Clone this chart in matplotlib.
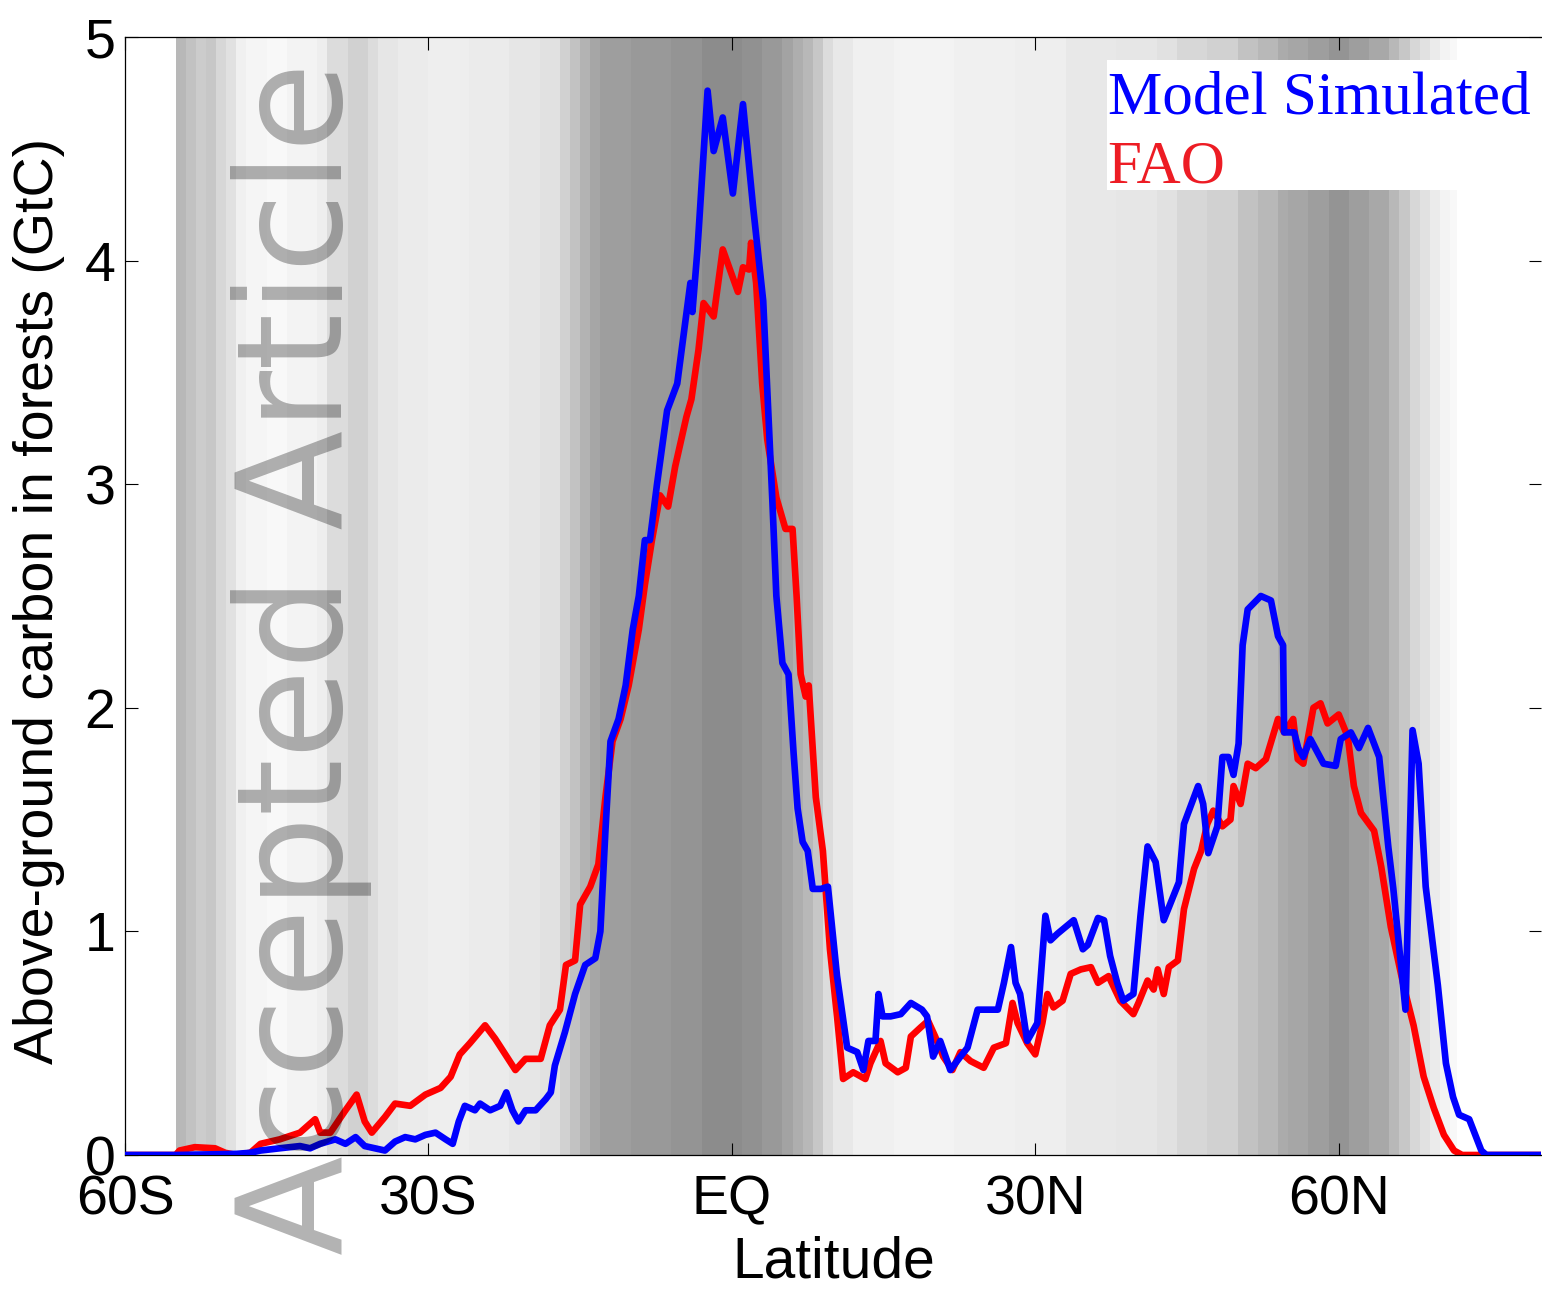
import matplotlib
matplotlib.use("Agg")
import matplotlib.pyplot as plt
from matplotlib.patches import Rectangle

# latitude (deg, negative = south) and above-ground carbon (GtC)
fao_lat = [-60.0, -55.0, -54.6, -53.1, -51.1, -50.1, -49.0, -47.6, -46.6, -44.7, -42.7, -41.2, -40.7,
           -39.7, -38.2, -37.1, -36.3, -35.6, -34.3, -33.3, -31.8, -30.3, -28.8, -27.8, -26.9, -25.9,
           -24.4, -23.4, -22.4, -21.4, -20.4, -18.9, -18.0, -17.0, -16.4, -15.5, -15.0, -14.0, -13.2,
           -12.5, -11.8, -11.0, -10.2, -9.2, -8.6, -7.9, -7.1, -6.3, -5.6, -4.5, -4.0, -3.3, -2.8,
           -1.8, -0.9, 0.6, 1.1, 1.7, 1.9, 2.4, 3.0, 3.5, 4.4, 5.3, 6.0, 6.4, 6.8, 7.3, 7.6, 8.3,
           9.0, 9.7, 10.4, 11.0, 12.0, 13.2, 13.7, 14.7, 15.2, 16.4, 17.2, 17.7, 18.65, 19.4, 20.1,
           20.9, 21.8, 22.6, 23.6, 24.9, 25.9, 27.1, 27.75, 28.25, 29.2, 30.0, 30.7, 31.2, 31.8, 32.7,
           33.5, 34.5, 35.5, 36.2, 37.25, 38.4, 39.7, 40.2, 41.1, 41.7, 42.1, 42.7, 43.2, 44.1, 44.7,
           45.7, 46.4, 47.0, 47.6, 48.5, 49.3, 49.6, 50.3, 51.0, 51.8, 52.8, 54.0, 54.6, 55.5, 55.95,
           56.5, 57.5, 58.2, 58.9, 60.0, 60.9, 61.5, 62.2, 63.5, 64.2, 65.15, 66.4, 67.4, 68.4, 69.4,
           70.4, 71.4, 72.2, 80.0]
fao = [0, 0, 0.02, 0.035, 0.03, 0.01, 0.0, 0.01, 0.05, 0.07, 0.10, 0.16, 0.10,
       0.10, 0.20, 0.27, 0.15, 0.10, 0.17, 0.23, 0.22, 0.27, 0.30, 0.35, 0.45, 0.50,
       0.58, 0.52, 0.45, 0.38, 0.43, 0.43, 0.58, 0.65, 0.85, 0.87, 1.12, 1.20, 1.30,
       1.60, 1.85, 1.95, 2.10, 2.35, 2.55, 2.75, 2.95, 2.90, 3.08, 3.30, 3.38, 3.60, 3.81,
       3.75, 4.05, 3.86, 3.97, 3.96, 4.08, 3.90, 3.45, 3.20, 2.94, 2.80, 2.80, 2.50, 2.15, 2.05, 2.10, 1.60,
       1.36, 0.92, 0.62, 0.34, 0.37, 0.34, 0.41, 0.51, 0.41, 0.37, 0.39, 0.53, 0.57, 0.60, 0.53,
       0.44, 0.38, 0.46, 0.42, 0.39, 0.48, 0.50, 0.68, 0.59, 0.50, 0.45, 0.59, 0.72, 0.66, 0.69,
       0.81, 0.83, 0.84, 0.77, 0.80, 0.69, 0.63, 0.68, 0.78, 0.74, 0.83, 0.72, 0.84, 0.87, 1.10,
       1.28, 1.36, 1.48, 1.54, 1.47, 1.50, 1.65, 1.57, 1.75, 1.73, 1.77, 1.95, 1.89, 1.95, 1.77,
       1.75, 2.00, 2.02, 1.93, 1.97, 1.87, 1.65, 1.53, 1.45, 1.29, 1.02, 0.76, 0.58, 0.35, 0.21,
       0.09, 0.02, 0.0, 0.0]

model_lat = [-60.0, -55.0, -49.0, -47.6, -46.6, -44.7, -42.7, -41.7, -40.7, -39.2, -38.2, -37.2, -36.3,
             -35.3, -34.3, -33.3, -32.3, -31.3, -30.3, -29.3, -28.3, -27.6, -27.0, -26.4, -25.4, -24.9,
             -23.9, -22.9, -22.3, -21.7, -21.1, -20.4, -19.4, -18.4, -17.9, -17.5, -16.5, -15.5, -14.5,
             -13.5, -13.0, -12.5, -12.0, -11.2, -10.5, -9.8, -9.2, -8.6, -8.1, -7.4, -6.4, -5.4, -4.1,
             -3.9, -3.4, -2.4, -1.8, -0.9, 0.1, 1.1, 2.1, 3.1, 4.0, 4.4, 5.0, 5.6, 6.1, 6.5, 7.0,
             7.5, 8.0, 8.8, 9.5, 10.4, 11.4, 12.4, 13.0, 13.5, 14.2, 14.5, 14.9, 15.7, 16.7, 17.7,
             18.8, 19.3, 19.9, 20.6, 21.6, 22.6, 23.3, 24.3, 26.3, 26.9, 27.6, 28.05, 28.5, 29.2,
             30.2, 31.0, 31.5, 32.2, 33.8, 34.7, 35.2, 36.2, 36.8, 37.4, 38.1, 38.7, 39.7, 40.4, 41.1,
             41.9, 42.7, 44.2, 44.7, 46.1, 46.6, 47.1, 48.0, 48.5, 49.1, 49.6, 50.1, 50.5, 51.0, 52.3,
             53.3, 54.0, 54.5, 54.6, 55.6, 56.0, 56.5, 57.2, 58.5, 59.7, 60.2, 61.2, 62.0, 62.9, 64.0,
             64.9, 65.4, 66.6, 67.3, 67.9, 68.6, 69.8, 70.6, 71.3, 71.9, 72.9, 74.1, 74.6, 80.0]
model = [0, 0, 0.005, 0.01, 0.02, 0.03, 0.04, 0.03, 0.05, 0.07, 0.05, 0.08, 0.04,
         0.03, 0.02, 0.06, 0.08, 0.07, 0.09, 0.10, 0.07, 0.05, 0.15, 0.22, 0.20, 0.23,
         0.20, 0.22, 0.28, 0.20, 0.15, 0.20, 0.20, 0.25, 0.28, 0.40, 0.55, 0.72, 0.85,
         0.88, 1.00, 1.45, 1.85, 1.95, 2.10, 2.35, 2.50, 2.75, 2.75, 3.00, 3.33, 3.45, 3.90,
         3.77, 4.05, 4.76, 4.49, 4.64, 4.30, 4.70, 4.24, 3.82, 2.93, 2.50, 2.20, 2.15, 1.80, 1.55, 1.40,
         1.36, 1.19, 1.19, 1.20, 0.80, 0.48, 0.46, 0.38, 0.51, 0.51, 0.72, 0.62, 0.62, 0.63, 0.68,
         0.65, 0.62, 0.44, 0.51, 0.38, 0.44, 0.48, 0.65, 0.65, 0.77, 0.93, 0.77, 0.72, 0.51,
         0.59, 1.07, 0.96, 0.99, 1.05, 0.92, 0.94, 1.06, 1.05, 0.89, 0.77, 0.69, 0.72, 1.07, 1.38,
         1.31, 1.05, 1.22, 1.48, 1.65, 1.57, 1.35, 1.47, 1.78, 1.78, 1.70, 1.84, 2.28, 2.44, 2.50,
         2.48, 2.32, 2.28, 1.89, 1.89, 1.82, 1.78, 1.86, 1.75, 1.74, 1.86, 1.89, 1.82, 1.91, 1.78,
         1.38, 1.19, 0.65, 1.90, 1.75, 1.20, 0.76, 0.41, 0.26, 0.18, 0.16, 0.02, 0.0, 0.0]

# background shading by latitude band (band edges, grey level 0=black 1=white)
shade_lat = [-55, -54, -53, -52, -51, -50, -49, -48, -46, -44, -41, -40, -38, -36, -35, -33, -30,
             -26, -22, -19, -17, -16, -15, -14, -13, -10, -6, -3, 1, 3, 5, 6, 7, 8, 9, 10,
             12, 16, 22, 28, 33, 38, 42, 44, 47, 50, 52, 54, 55, 57, 59, 61, 63, 65, 66, 67,
             68, 69, 70, 71, 71.7]
shade_gray = [0.72, 0.76, 0.80, 0.78, 0.84, 0.88, 0.94, 0.96, 0.97, 0.95,
              0.93, 0.86, 0.82, 0.86, 0.90, 0.92, 0.93, 0.92, 0.90, 0.88,
              0.82, 0.76, 0.70, 0.65, 0.62, 0.60, 0.58, 0.55, 0.57, 0.60,
              0.64, 0.68, 0.72, 0.78, 0.86, 0.91, 0.94, 0.95, 0.94, 0.93,
              0.91, 0.90, 0.88, 0.84, 0.82, 0.76, 0.72, 0.67, 0.65, 0.62,
              0.58, 0.62, 0.66, 0.72, 0.78, 0.84, 0.88, 0.92, 0.95, 0.97]

xticks = [-60, -30, 0, 30, 60]
xticklabels = ["60S", "30S", "EQ", "30N", "60N"]

plt.rcParams["font.family"] = ["Liberation Sans", "DejaVu Sans"]

W, H = 1542, 1292
fig = plt.figure(figsize=(W / 100, H / 100), dpi=100)
ax = fig.add_axes([125 / W, 1 - 1155 / H, 1416 / W, 1118 / H])

ax.pcolormesh(shade_lat, [0, 5], [shade_gray], cmap="gray", vmin=0, vmax=1,
              shading="flat", zorder=0)
ax.plot(fao_lat, fao, color=(1, 0, 0), lw=4.8, zorder=2)
ax.plot(model_lat, model, color=(0, 0, 1), lw=4.8, zorder=3)

ax.set_xlim(-60, 80)
ax.set_ylim(0, 5)
ax.set_xticks(xticks)
ax.set_xticklabels(xticklabels)
ax.set_yticks(range(6))
ax.tick_params(direction="in", length=9, width=0.8, top=True, right=True,
               labelsize=40)
ax.tick_params(axis="x", pad=14)
ax.tick_params(axis="y", pad=7)
ax.spines["right"].set_visible(False)
for s in ["left", "top", "bottom"]:
    ax.spines[s].set_linewidth(0.9)

ax.set_xlabel("Latitude", fontsize=41)
ax.xaxis.set_label_coords(0.5007, -0.072)
ax.set_ylabel("Above-ground carbon in forests (GtC)", fontsize=40)
ax.yaxis.set_label_coords(-0.0424, 0.496)

# legend-like labels on a white box
ax.add_patch(Rectangle((0.6935, 0.863), 0.30, 0.116, transform=ax.transAxes,
                       facecolor="white", edgecolor="none", zorder=4))
ax.text(0.694, 0.932, "Model Simulated", transform=ax.transAxes, color=(0, 0, 1),
        fontsize=44, family="Liberation Serif", va="baseline", ha="left", zorder=5)
ax.text(0.694, 0.870, "FAO", transform=ax.transAxes, color=(0.93, 0.11, 0.14),
        fontsize=44, family="Liberation Serif", va="baseline", ha="left", zorder=5)

# watermark
fig.text(342 / W, 1 - 1255 / H, "Accepted Article", rotation=90, rotation_mode="anchor",
         ha="left", va="baseline", fontsize=105, family="DejaVu Sans",
         color="black", alpha=0.3, zorder=10)

fig.savefig("out.png", dpi=100)
